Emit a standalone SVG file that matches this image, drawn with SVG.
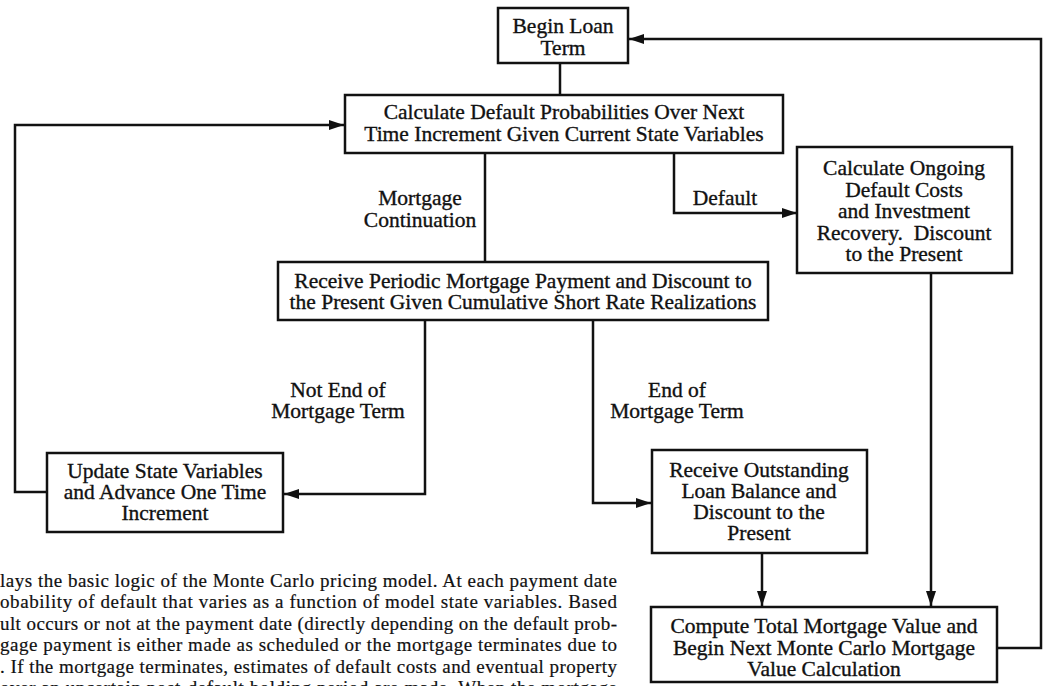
<svg xmlns="http://www.w3.org/2000/svg" width="1044" height="686" viewBox="0 0 1044 686">
<style>
.box{fill:#fff;stroke:#111;stroke-width:2.5}
.ln{fill:none;stroke:#111;stroke-width:2.5}
.t{font-family:"Liberation Serif","Times New Roman",serif;font-size:21.5px;fill:#111;stroke:#111;stroke-width:0.35;text-anchor:middle}
.p{font-family:"Liberation Serif","Times New Roman",serif;font-size:19px;fill:#111;stroke:#111;stroke-width:0.2}
</style>
<defs>
<marker id="ah" markerUnits="userSpaceOnUse" markerWidth="16" markerHeight="12" refX="15" refY="6" orient="auto">
<path d="M0,1 L15,6 L0,11 Z" fill="#111"/>
</marker>
</defs>
<rect width="1044" height="686" fill="#fff"/>
<g id="connectors">
<path class="ln" d="M560,63 V95"/>
<path class="ln" d="M485,153 V262"/>
<path class="ln" d="M674,153 V213 H797" marker-end="url(#ah)"/>
<path class="ln" d="M425,320 V494 H284" marker-end="url(#ah)"/>
<path class="ln" d="M593,320 V503 H651" marker-end="url(#ah)"/>
<path class="ln" d="M47,492 H15 V125 H344" marker-end="url(#ah)"/>
<path class="ln" d="M762,553 V606" marker-end="url(#ah)"/>
<path class="ln" d="M931,273 V606" marker-end="url(#ah)"/>
<path class="ln" d="M997,648 H1041 V39 H629" marker-end="url(#ah)"/>
<text class="t" x="420" y="205">Mortgage</text>
<text class="t" x="420" y="227">Continuation</text>
<text class="t" x="725" y="205">Default</text>
<text class="t" x="338" y="397">Not End of</text>
<text class="t" x="338" y="418">Mortgage Term</text>
<text class="t" x="677" y="397">End of</text>
<text class="t" x="677" y="418">Mortgage Term</text>
</g>
<g id="begin">
<rect class="box" x="498" y="8" width="130" height="55"/>
<text class="t" x="563" y="33">Begin Loan</text>
<text class="t" x="563" y="55">Term</text>
</g>
<g id="calc">
<rect class="box" x="345" y="95" width="438" height="58"/>
<text class="t" x="564" y="119">Calculate Default Probabilities Over Next</text>
<text class="t" x="564" y="141">Time Increment Given Current State Variables</text>
</g>
<g id="ongoing">
<rect class="box" x="797" y="147" width="215" height="126"/>
<text class="t" x="904" y="175">Calculate Ongoing</text>
<text class="t" x="904" y="197">Default Costs</text>
<text class="t" x="904" y="218">and Investment</text>
<text class="t" x="904" y="240" xml:space="preserve">Recovery.  Discount</text>
<text class="t" x="904" y="261">to the Present</text>
</g>
<g id="periodic">
<rect class="box" x="278" y="262" width="490" height="58"/>
<text class="t" x="523" y="288">Receive Periodic Mortgage Payment and Discount to</text>
<text class="t" x="523" y="309">the Present Given Cumulative Short Rate Realizations</text>
</g>
<g id="update">
<rect class="box" x="47" y="453" width="236" height="79"/>
<text class="t" x="165" y="478">Update State Variables</text>
<text class="t" x="165" y="499">and Advance One Time</text>
<text class="t" x="165" y="520">Increment</text>
</g>
<g id="outstanding">
<rect class="box" x="652" y="450" width="215" height="103"/>
<text class="t" x="759" y="477">Receive Outstanding</text>
<text class="t" x="759" y="498">Loan Balance and</text>
<text class="t" x="759" y="519">Discount to the</text>
<text class="t" x="759" y="540">Present</text>
</g>
<g id="compute">
<rect class="box" x="651" y="607" width="346" height="75"/>
<text class="t" x="824" y="633">Compute Total Mortgage Value and</text>
<text class="t" x="824" y="655">Begin Next Monte Carlo Mortgage</text>
<text class="t" x="824" y="676">Value Calculation</text>
</g>
<g id="caption">
<text class="p" x="0" y="587" textLength="617" lengthAdjust="spacing">lays the basic logic of the Monte Carlo pricing model. At each payment date</text>
<text class="p" x="0" y="608" textLength="617" lengthAdjust="spacing">obability of default that varies as a function of model state variables. Based</text>
<text class="p" x="0" y="630" textLength="617" lengthAdjust="spacing">ult occurs or not at the payment date (directly depending on the default prob-</text>
<text class="p" x="0" y="651" textLength="617" lengthAdjust="spacing">gage payment is either made as scheduled or the mortgage terminates due to</text>
<text class="p" x="0" y="673" textLength="617" lengthAdjust="spacing">. If the mortgage terminates, estimates of default costs and eventual property</text>
<text class="p" x="0" y="694" textLength="617" lengthAdjust="spacing">over an uncertain post-default holding period are made. When the mortgage</text>
</g>
</svg>
